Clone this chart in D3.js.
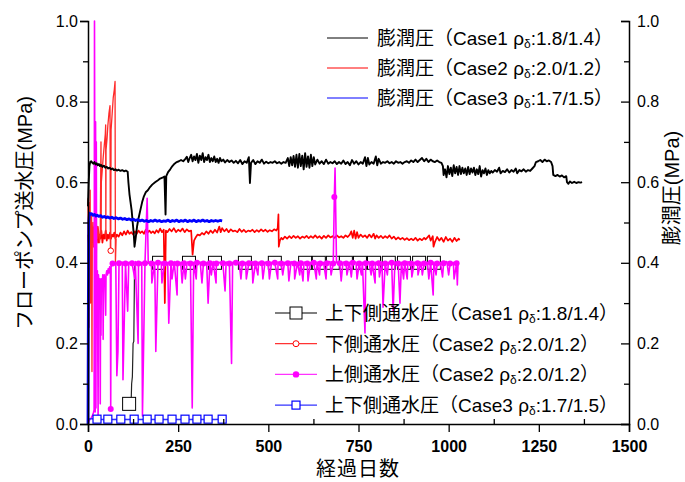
<!DOCTYPE html>
<html><head><meta charset="utf-8">
<script src="https://cdn.jsdelivr.net/npm/d3@7"></script>
<style>body{margin:0;background:#fff}</style>
</head><body><svg id="c" width="685" height="482"></svg>
<script>
// ---------- data ----------
const xTicks = [0,250,500,750,1000,1250,1500];
const xMinorTicks = [125,375,625,875,1125,1375];
const yTicks = [0,0.2,0.4,0.6,0.8,1.0];
const yMinorTicks = [0.1,0.3,0.5,0.7,0.9];

// 膨潤圧 Case1 (black)
const swellCase1 = [[0,0.54],[2,0.60],[4,0.64],[6,0.650],[9,0.652],[12,0.648],[15,0.646],[18,0.650],[21,0.644],[24,0.647],[27,0.642],[30,0.645],[33,0.640],[36,0.643],[40,0.638],[44,0.641],[48,0.636],[52,0.638],[56,0.634],[60,0.636],[64,0.632],[68,0.634],[72,0.630],[76,0.632],[80,0.629],[85,0.631],[90,0.628],[95,0.630],[100,0.627],[105,0.629],[110,0.626],
[112,0.60],[115,0.57],[118,0.55],[121,0.53],[124,0.50],[127,0.47],[129,0.44],
[132,0.46],[136,0.49],[140,0.51],[145,0.53],[150,0.55],[155,0.565],[160,0.575],[166,0.58],[172,0.588],[178,0.594],[186,0.60],[194,0.605],[200,0.609],[208,0.612],[212,0.614],[215,0.52],[217,0.615],[222,0.625],[228,0.632],[234,0.64],[240,0.646],[246,0.650],[252,0.652],[258,0.655],[264,0.652],[270,0.658],[274,0.663],[278,0.650],[282,0.660],[286,0.668],[290,0.652],[294,0.664],[298,0.655],[302,0.670],[306,0.648],[310,0.666],[314,0.655],[318,0.672],[322,0.650],[326,0.662],[330,0.655],[334,0.668],[338,0.650],[342,0.660],[346,0.652],[350,0.664],[354,0.650],[358,0.658],[362,0.648],[366,0.660],[370,0.652],[375,0.656],[380,0.649],[386,0.655],[392,0.650],[398,0.654],[404,0.648],[410,0.653],[416,0.647],[422,0.655],[428,0.645],[434,0.652],[440,0.648],[446,0.662],[449,0.598],[452,0.648],[458,0.655],[464,0.645],[470,0.652],[476,0.648],[482,0.656],[488,0.646],[494,0.651],[500,0.647],[506,0.650],[512,0.648],[518,0.652],[524,0.647],[530,0.650],[536,0.646],[542,0.650],[548,0.648],[554,0.660],[558,0.640],[562,0.662],[566,0.642],[570,0.665],[574,0.638],[578,0.668],[582,0.636],[586,0.670],[590,0.640],[594,0.666],[598,0.632],[602,0.672],[606,0.638],[610,0.664],[614,0.636],[618,0.668],[622,0.640],[626,0.662],[630,0.644],[636,0.656],[642,0.646],[648,0.652],[654,0.645],[660,0.656],[666,0.646],[672,0.650],[678,0.647],[684,0.652],[690,0.645],[696,0.650],[702,0.646],[708,0.654],[714,0.645],[720,0.650],[726,0.642],[732,0.655],[738,0.646],[744,0.652],[750,0.644],[756,0.650],[762,0.646],[768,0.662],[772,0.640],[776,0.660],[780,0.644],[786,0.650],[792,0.646],[798,0.664],[802,0.642],[806,0.658],[812,0.646],[818,0.650],[824,0.648],[830,0.652],[836,0.647],[842,0.650],[848,0.646],[854,0.652],[860,0.648],[866,0.650],[872,0.646],[878,0.650],[884,0.652],[890,0.648],[896,0.654],[902,0.650],[908,0.656],[914,0.650],[920,0.655],[926,0.660],[932,0.652],[938,0.658],[944,0.650],[950,0.656],[956,0.652],[962,0.650],[968,0.654],[974,0.650],
[980,0.648],[984,0.640],[986,0.618],[990,0.632],[994,0.612],[998,0.640],[1002,0.620],[1006,0.636],[1010,0.615],[1014,0.642],[1018,0.622],[1022,0.638],[1026,0.618],[1030,0.640],[1034,0.620],[1038,0.636],[1042,0.622],[1046,0.634],[1050,0.618],[1054,0.638],[1058,0.620],[1062,0.634],[1066,0.624],[1070,0.636],[1074,0.618],[1078,0.632],[1082,0.620],[1086,0.640],[1090,0.614],[1094,0.630],[1098,0.622],[1102,0.634],[1106,0.618],[1110,0.630],[1114,0.622],[1118,0.628],[1122,0.624],[1128,0.630],[1134,0.626],[1140,0.636],[1144,0.622],[1150,0.628],[1156,0.625],[1162,0.632],[1168,0.624],[1174,0.630],[1180,0.626],[1186,0.634],[1190,0.622],[1196,0.630],[1202,0.627],[1208,0.632],[1214,0.626],[1220,0.630],[1226,0.628],[1232,0.634],[1238,0.640],[1242,0.650],[1248,0.652],[1254,0.655],[1260,0.650],[1266,0.656],[1272,0.652],[1278,0.654],[1284,0.650],[1288,0.640],[1290,0.618],[1296,0.615],[1302,0.618],[1308,0.614],[1314,0.617],[1320,0.612],[1326,0.615],[1328,0.600],[1332,0.596],[1336,0.602],[1342,0.598],[1348,0.601],[1354,0.598],[1360,0.600],[1366,0.599],[1370,0.600]];

// 膨潤圧 Case2 (red)
const swellCase2 = [[0,0.47],[2,0.45],[4,0.48],[6,0.46],[8,0.49],[10,0.45],[13,0.47],[16,0.44],[19,0.48],[22,0.46],[25,0.49],[28,0.45],[31,0.47],[34,0.46],[37,0.48],[40,0.45],[43,0.47],[46,0.46],[49,0.48],[52,0.455],[55,0.47],[58,0.46],[61,0.475],[64,0.46],[67,0.47],[70,0.465],[73,0.475],[76,0.46],[80,0.47],[85,0.465],[90,0.475],[95,0.468],[100,0.478],[105,0.47],[110,0.48],[115,0.472],[120,0.476],[125,0.47],[130,0.478],[135,0.472],[140,0.48],[145,0.474],[150,0.478],[155,0.472],[160,0.482],[165,0.475],[170,0.48],[175,0.474],[180,0.478],[185,0.473],[190,0.481],[195,0.475],[200,0.485],[205,0.476],[210,0.482],[213,0.30],[216,0.48],[220,0.476],[226,0.484],[232,0.478],[238,0.486],[244,0.476],[250,0.482],[256,0.478],[262,0.485],[268,0.476],[274,0.483],[280,0.478],[286,0.48],[290,0.42],[294,0.455],[298,0.462],[304,0.47],[310,0.468],[316,0.474],[322,0.47],[328,0.478],[334,0.472],[340,0.48],[346,0.474],[352,0.482],[358,0.475],[364,0.49],[368,0.476],[372,0.486],[378,0.478],[384,0.484],[390,0.476],[396,0.483],[402,0.478],[408,0.48],[414,0.476],[420,0.484],[426,0.477],[432,0.482],[438,0.476],[444,0.48],[450,0.478],[456,0.482],[462,0.476],[468,0.481],[474,0.477],[480,0.483],[486,0.478],[492,0.482],[498,0.477],[504,0.481],[510,0.478],[516,0.483],[522,0.48],[526,0.486],[528,0.52],[529,0.44],[532,0.455],[536,0.462],[540,0.458],[546,0.465],[552,0.46],[558,0.466],[564,0.461],[570,0.467],[576,0.462],[582,0.466],[588,0.46],[594,0.465],[600,0.462],[606,0.467],[612,0.461],[618,0.466],[624,0.462],[630,0.468],[636,0.462],[642,0.466],[648,0.46],[654,0.467],[660,0.462],[666,0.468],[672,0.463],[678,0.466],[684,0.462],[690,0.468],[696,0.463],[702,0.466],[708,0.462],[714,0.468],[720,0.464],[726,0.47],[730,0.478],[734,0.462],[738,0.48],[742,0.46],[746,0.476],[750,0.462],[756,0.47],[762,0.464],[768,0.468],[774,0.462],[780,0.47],[786,0.463],[792,0.472],[796,0.46],[800,0.468],[806,0.462],[812,0.467],[818,0.461],[824,0.466],[830,0.462],[836,0.468],[842,0.46],[848,0.465],[854,0.458],[860,0.463],[866,0.458],[872,0.462],[878,0.457],[884,0.461],[890,0.456],[896,0.46],[902,0.456],[908,0.462],[914,0.455],[920,0.46],[926,0.456],[932,0.462],[936,0.458],[940,0.462],[946,0.468],[950,0.455],[956,0.466],[958,0.44],[962,0.452],[968,0.464],[974,0.455],[980,0.462],[986,0.452],[992,0.464],[998,0.455],[1004,0.46],[1010,0.452],[1016,0.462],[1022,0.454],[1028,0.46],[1030,0.456]];

// 膨潤圧 Case3 (blue)
const swellCase3 = [[0,0.0],[1,0.30],[2,0.50],[4,0.523],[7,0.520],[10,0.522],[14,0.518],[18,0.520],[22,0.516],[26,0.518],[30,0.515],[35,0.517],[40,0.513],[45,0.515],[50,0.512],[55,0.514],[60,0.511],[66,0.513],[72,0.510],[78,0.512],[84,0.509],[90,0.511],[96,0.508],[102,0.510],[108,0.507],[114,0.509],[120,0.506],[126,0.508],[132,0.505],[138,0.507],[144,0.504],[150,0.506],[156,0.503],[162,0.505],[168,0.502],[174,0.505],[180,0.503],[186,0.506],[192,0.503],[198,0.505],[204,0.502],[210,0.504],[216,0.503],[222,0.506],[228,0.502],[234,0.505],[240,0.503],[246,0.506],[252,0.502],[258,0.505],[264,0.503],[270,0.506],[276,0.502],[282,0.505],[288,0.503],[294,0.506],[300,0.502],[306,0.505],[312,0.503],[318,0.506],[324,0.503],[330,0.505],[336,0.502],[342,0.505],[348,0.503],[354,0.505],[360,0.503],[366,0.505],[372,0.504]];

// 上下側通水圧 Case1 (black, squares; third item = marker)
const wpCase1 = [[114,0.05,1],[118,0.052],[120,0.067],[121,0.10],[123,0.117],[125,0.20],[127,0.205],[129,0.39],[135,0.40],[197,0.40,1],[280,0.40,1],[352,0.40,1],[435,0.40,1],[518,0.40,1],[602,0.40,1],[640,0.40,1],[679,0.40,1],[715,0.40,1],[754,0.40,1],[793,0.40,1],[834,0.40,1],[876,0.40,1],[918,0.40,1],[959,0.40,1],[970,0.40]];

// 下側通水圧 Case2 (red, open circle)
const wpCase2Lower = [[0,0.56],[1,0.40],[2,0.55],[3,0.24],[4,0.52],[5,0.45],[6,0.58],[7,0.30],[8,0.50],[9,0.46],[10,0.52],[11,0.13],[12,0.48],[13,0.46],[14,0.50],[16,0.44],[18,0.49],[20,0.46],[22,0.30],[24,0.48],[26,0.46],[28,0.49],[30,0.47],[32,0.45],[34,0.47],[35,0.59],[36,0.70],[36.5,0.47],[37,0.60],[42,0.66],[45,0.69],[48,0.72],[49,0.742],[49.5,0.46],[50,0.68],[53,0.71],[55,0.74],[58,0.77],[61,0.79],[62,0.44],[63,0.43,1],[64,0.73],[67,0.77],[70,0.81],[73,0.83],[75,0.85],[76,0.40],[78,0.46]];

// 上側通水圧 Case2 (magenta, filled dots)
const wpCase2UpperEarly = [[0,0.0],[3,0.008],[6,0.012],[9,0.015],[12,0.02],[15,0.028],[17,0.035],[18,1.0],[19,0.55],[20,0.03],[21,0.75],[22,0.04],[23,0.70],[24,0.30],[26,0.38],[28,0.02],[29,0.37],[31,0.34],[33,0.36],[34,0.05],[35,0.35],[36,0.22],[37,0.36],[39,0.34],[41,0.37],[42,0.21],[43,0.36],[45,0.37],[47,0.355],[49,0.27],[50,0.37],[52,0.38],[54,0.37],[56,0.385],[58,0.375],[60,0.39],[62,0.385],[63,0.037],[64,0.39],[66,0.395]];
const wpCase2UpperBase = [[68,0.398],[77,0.401],[86,0.399],[95,0.402],[104,0.398],[113,0.401],[122,0.399],[131,0.403],[140,0.398],[149,0.401],[158,0.399],[167,0.402],[176,0.398],[185,0.401],[194,0.400],[203,0.402],[212,0.398],[221,0.401],[230,0.399],[239,0.403],[248,0.398],[257,0.401],[266,0.399],[275,0.402],[284,0.398],[293,0.401],[302,0.400],[311,0.402],[320,0.398],[329,0.401],[338,0.399],[347,0.403],[356,0.398],[365,0.401],[374,0.399],[383,0.402],[392,0.398],[401,0.401],[410,0.400],[419,0.402],[428,0.398],[437,0.401],[446,0.399],[455,0.403],[464,0.398],[473,0.401],[482,0.399],[491,0.402],[500,0.398],[509,0.401],[518,0.400],[527,0.402],[536,0.398],[545,0.401],[554,0.399],[563,0.403],[572,0.398],[581,0.401],[590,0.399],[599,0.402],[608,0.398],[617,0.401],[626,0.400],[635,0.402],[644,0.398],[653,0.401],[662,0.399],[671,0.403],[680,0.398],[689,0.401],[698,0.399],[707,0.402],[716,0.398],[725,0.401],[734,0.400],[743,0.402],[752,0.398],[761,0.401],[770,0.399],[779,0.403],[788,0.398],[797,0.401],[806,0.399],[815,0.402],[824,0.398],[833,0.401],[842,0.400],[851,0.402],[860,0.398],[869,0.401],[878,0.399],[887,0.403],[896,0.398],[905,0.401],[914,0.399],[923,0.402],[932,0.398],[941,0.401],[950,0.400],[959,0.402],[968,0.398],[977,0.401],[986,0.399],[995,0.403],[1004,0.398],[1013,0.401],[1022,0.399],[1026,0.400]];
const wpCase2UpperSpikes = [[80,0.12],[83,0.18],[97,0.11],[110,0.28],[130,0.36],[139,0.20],[151,0.02],[164,0.56],[177,0.35],[188,0.18],[205,0.35],[224,0.25],[233,0.36],[247,0.32],[261,0.35],[270,0.36],[289,0.04],[300,0.36],[316,0.35],[333,0.30],[342,0.37],[355,0.35],[380,0.33],[398,0.15],[424,0.36],[439,0.36],[457,0.35],[471,0.37],[485,0.36],[503,0.36],[526,0.36],[540,0.37],[557,0.355],[573,0.36],[587,0.37],[596,0.355],[610,0.355],[633,0.36],[642,0.37],[660,0.36],[674,0.37],[683,0.563],[685,0.635],[702,0.355],[718,0.37],[730,0.365],[746,0.36],[758,0.37],[768,0.226],[785,0.37],[796,0.35],[808,0.365],[818,0.29],[830,0.37],[846,0.28],[865,0.30],[875,0.36],[885,0.36],[898,0.365],[915,0.37],[927,0.37],[945,0.36],[957,0.32],[965,0.37],[983,0.365],[1000,0.37],[1015,0.36],[1024,0.345]];
const wpCase2UpperExtraMarkers = [[63,0.037],[683,0.563]];

// 上下側通水圧 Case3 (blue, small squares)
const wpCase3 = [[0,0.0],[1,0.01],[5,0.013],[10,0.013],[25,0.012,1],[40,0.011],[55,0.012,1],[70,0.011],[91,0.012,1],[110,0.011],[128,0.012,1],[145,0.011],[164,0.012,1],[180,0.011],[197,0.012,1],[215,0.011],[233,0.012,1],[250,0.011],[269,0.012,1],[285,0.011],[302,0.012,1],[318,0.011],[333,0.012,1],[350,0.011],[372,0.012,1],[380,0.012]];

const legend1Labels = [["膨潤圧（Case1 ρ","δ",":1.8/1.4）"],["膨潤圧（Case2 ρ","δ",":2.0/1.2）"],["膨潤圧（Case3 ρ","δ",":1.7/1.5）"]];
const legend2Labels = [["上下側通水圧（Case1 ρ","δ",":1.8/1.4）"],["下側通水圧（Case2 ρ","δ",":2.0/1.2）"],["上側通水圧（Case2 ρ","δ",":2.0/1.2）"],["上下側通水圧（Case3 ρ","δ",":1.7/1.5）"]];

// ---------- drawing ----------
const FONT = "'Liberation Sans', Arial, 'Noto Sans CJK JP', sans-serif";
const svg = d3.select("#c").style("font-family", FONT);
const x = d3.scaleLinear([0,1500],[88,629]);
const y = d3.scaleLinear([0,1],[424,21]);
const line = d3.line().x(d=>x(d[0])).y(d=>y(d[1]));

const g = svg.append("g");
function path(data, color, w){
  g.append("path").datum(data).attr("d", line).attr("fill","none")
   .attr("stroke", color).attr("stroke-width", w).attr("stroke-linejoin","round");
}

// water pressure Case1
path(wpCase1, "#222", 1.2);
g.selectAll(".sq1").data(wpCase1.filter(d=>d[2])).join("rect")
  .attr("x", d=>x(d[0])-6.5).attr("y", d=>y(d[1])-6.5).attr("width",13).attr("height",13)
  .attr("fill","#fff").attr("stroke","#000").attr("stroke-width",1);

// swelling Case2 red
path(swellCase2, "#ff0000", 1.7);
// lower WP Case2
path(wpCase2Lower, "#ff2a2a", 1.3);
g.selectAll(".c2").data(wpCase2Lower.filter(d=>d[2])).join("circle")
  .attr("cx", d=>x(d[0])).attr("cy", d=>y(d[1])).attr("r",2.8)
  .attr("fill","#fff").attr("stroke","#ff0000").attr("stroke-width",1);

// upper WP Case2 magenta
const upperAll = wpCase2UpperEarly.concat(wpCase2UpperBase, wpCase2UpperSpikes).sort((a,b)=>a[0]-b[0]);
path(upperAll, "#ff00ff", 1.6);
const upperMarkers = wpCase2UpperBase.filter((d,i)=>i%2===0).concat(wpCase2UpperExtraMarkers);
g.selectAll(".m2").data(upperMarkers).join("circle")
  .attr("cx", d=>x(d[0])).attr("cy", d=>y(d[1])).attr("r",3)
  .attr("fill","#ff00ff");

// WP Case3 blue
path(wpCase3, "#3333ff", 1.5);
g.selectAll(".sq3").data(wpCase3.filter(d=>d[2])).join("rect")
  .attr("x", d=>x(d[0])-4).attr("y", d=>y(d[1])-4).attr("width",8).attr("height",8)
  .attr("fill","#fff").attr("stroke","#0000ff").attr("stroke-width",1.2);

// swelling Case1 black
path(swellCase1, "#000", 1.9);
// swelling Case3 blue
path(swellCase3, "#0000ff", 2.8);

// ---------- axes ----------
function styleAxis(sel){
  sel.selectAll("path.domain").attr("stroke","#000").attr("stroke-width",1.5);
  sel.selectAll(".tick line").attr("stroke","#000").attr("stroke-width",1.3);
  sel.selectAll(".tick text").attr("fill","#000").style("font-family",FONT);
}
const fmt = d3.format(".1f");
const axL = svg.append("g").attr("transform","translate(88,0)")
  .call(d3.axisLeft(y).tickValues(yTicks).tickSize(8).tickPadding(2).tickFormat(fmt));
axL.selectAll("text").style("font-size","16px");
styleAxis(axL);
const axLm = svg.append("g").attr("transform","translate(88,0)")
  .call(d3.axisLeft(y).tickValues(yMinorTicks).tickSize(5).tickFormat(""));
axLm.select("path.domain").remove(); styleAxis(axLm);

const axR = svg.append("g").attr("transform","translate(629,0)")
  .call(d3.axisRight(y).tickValues(yTicks).tickSize(-8).tickPadding(8).tickFormat(fmt));
axR.selectAll("text").style("font-size","16px");
styleAxis(axR);
const axRm = svg.append("g").attr("transform","translate(629,0)")
  .call(d3.axisRight(y).tickValues(yMinorTicks).tickSize(-5).tickFormat(""));
axRm.select("path.domain").remove(); styleAxis(axRm);

const axB = svg.append("g").attr("transform","translate(0,424)")
  .call(d3.axisBottom(x).tickValues(xTicks).tickSize(8).tickPadding(9).tickFormat(d3.format("d")));
axB.selectAll("text").style("font-size","16px").style("font-weight","bold");
styleAxis(axB);
const axBm = svg.append("g").attr("transform","translate(0,424)")
  .call(d3.axisBottom(x).tickValues(xMinorTicks).tickSize(-5).tickFormat(""));
axBm.select("path.domain").remove(); styleAxis(axBm);

// ---------- titles ----------
svg.append("text").attr("transform","translate(25,213) rotate(-90)")
  .attr("text-anchor","middle").attr("dominant-baseline","central")
  .style("font-size","20px").text("フローポンプ送水圧(MPa)");
svg.append("text").attr("transform","translate(672,188) rotate(-90)")
  .attr("text-anchor","middle").attr("dominant-baseline","central")
  .style("font-size","20px").text("膨潤圧(MPa)");
svg.append("text").attr("x",358).attr("y",469)
  .attr("text-anchor","middle").attr("dominant-baseline","central")
  .style("font-size","20px").style("letter-spacing","1px").text("経過日数");

// ---------- legends ----------
function labelText(gg, parts, tx, ty){
  const t = gg.append("text").attr("x",tx).attr("y",ty).attr("dominant-baseline","central")
    .style("font-size","19px");
  t.append("tspan").text(parts[0]);
  t.append("tspan").attr("dy",6).style("font-size","12px").text(parts[1]);
  t.append("tspan").attr("dy",-6).text(parts[2]);
}
const leg1Colors = ["#000","#ff0000","#0000ff"];
const leg1 = svg.append("g");
legend1Labels.forEach((p,i)=>{
  const ly = 38 + i*30;
  leg1.append("line").attr("x1",327).attr("x2",368).attr("y1",ly).attr("y2",ly)
    .attr("stroke",leg1Colors[i]).attr("stroke-width",1);
  labelText(leg1, p, 377, ly);
});

const leg2 = svg.append("g");
const leg2Line = ["#000","#ff3333","#ff33ff","#3333ff"];
legend2Labels.forEach((p,i)=>{
  const ly = 313 + i*30.7;
  leg2.append("line").attr("x1",275).attr("x2",317).attr("y1",ly).attr("y2",ly)
    .attr("stroke",leg2Line[i]).attr("stroke-width",1.2);
  if(i===0) leg2.append("rect").attr("x",290).attr("y",ly-6).attr("width",12).attr("height",12)
    .attr("fill","#fff").attr("stroke","#000").attr("stroke-width",1);
  if(i===1) leg2.append("circle").attr("cx",296).attr("cy",ly).attr("r",3)
    .attr("fill","#fff").attr("stroke","#ff0000").attr("stroke-width",1);
  if(i===2) leg2.append("circle").attr("cx",296).attr("cy",ly).attr("r",3.2).attr("fill","#ff00ff");
  if(i===3) leg2.append("rect").attr("x",292).attr("y",ly-4).attr("width",8).attr("height",8)
    .attr("fill","#fff").attr("stroke","#0000ff").attr("stroke-width",1.2);
  labelText(leg2, p, 325, ly);
});
</script></body></html>
